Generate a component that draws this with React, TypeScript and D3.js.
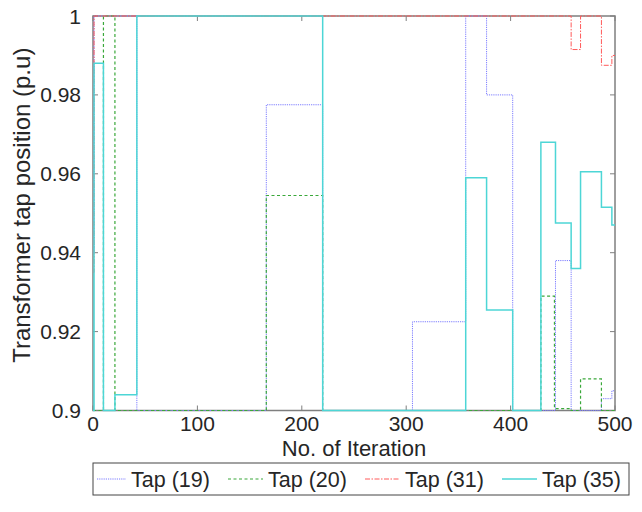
import React from "react";
import * as d3 from "d3";

const seriesNames = ["Tap (19)", "Tap (20)", "Tap (31)", "Tap (35)"];

// change points (iteration where a new value starts) and values
const tap19Iter = [0, 1, 42, 166, 220, 306, 357, 377, 402, 443, 458, 487, 497, 500];
const tap19Val = [0.94, 1, 0.9, 0.9775, 0.9, 0.9225, 1, 0.98, 0.9, 0.938, 0.9, 0.903, 0.905, 0.905];

const tap20Iter = [0, 10, 21, 166, 220, 429, 442, 458, 467, 487, 500];
const tap20Val = [0.9, 1, 0.9, 0.9545, 0.9, 0.929, 0.9005, 0.9, 0.908, 0.9, 0.9];

const tap31Iter = [0, 1, 458, 467, 487, 497, 500];
const tap31Val = [0.935, 1, 0.9915, 1, 0.9875, 0.99, 0.99];

const tap35Iter = [0, 1, 10, 21, 42, 220, 357, 377, 402, 429, 443, 458, 467, 487, 497, 500];
const tap35Val = [0.9, 0.988, 0.9, 0.904, 1, 0.9, 0.959, 0.9255, 0.9, 0.968, 0.9475, 0.936, 0.9605, 0.9515, 0.947, 0.947];

const xTicks = [0, 100, 200, 300, 400, 500];
const yTicks = [0.9, 0.92, 0.94, 0.96, 0.98, 1];

const colors = ["#7b7bff", "#3aa83a", "#ff5a5a", "#4dd6d6"];
const dashes = ["1.2,1", "3,2.5", "5,1.5,1.5,1.5", "none"];
const widths = [1, 1.2, 1, 1.5];

export default function App() {
  const W = 642, H = 512;
  const left = 93, right = 615, top = 16, bottom = 410.5;
  const x = d3.scaleLinear().domain([0, 500]).range([left, right]);
  const y = d3.scaleLinear().domain([0.9, 1]).range([bottom, top]);
  const line = d3
    .line<[number, number]>()
    .x((d) => x(d[0]))
    .y((d) => y(d[1]))
    .curve(d3.curveStepAfter);
  const all = [
    [tap19Iter, tap19Val],
    [tap20Iter, tap20Val],
    [tap31Iter, tap31Val],
    [tap35Iter, tap35Val],
  ].map(([it, v]) => it.map((t, i) => [t, v[i]] as [number, number]));

  const font = "'Liberation Sans', Arial, Helvetica, sans-serif";
  const axisCol = "#7f7f7f";
  const textCol = "#262626";
  const tickLen = 5;
  const legendTextX = [131, 268, 405, 542];
  const legTop = 463, legH = 32;

  return (
    <svg width={W} height={H} style={{ position: "absolute", left: 0, top: 0, background: "#fff" }} fontFamily={font}>
      <rect x={0} y={0} width={W} height={H} fill="#fff" />
      {/* axes box */}
      <rect x={left} y={top} width={right - left} height={bottom - top} fill="none" stroke={axisCol} strokeWidth={1.5} />
      {xTicks.map((t) => (
        <g key={"x" + t}>
          <line x1={x(t)} x2={x(t)} y1={bottom} y2={bottom - tickLen} stroke={axisCol} />
          <line x1={x(t)} x2={x(t)} y1={top} y2={top + tickLen} stroke={axisCol} />
          <text x={x(t)} y={bottom + 20} textAnchor="middle" fontSize={21} fill={textCol}>
            {t}
          </text>
        </g>
      ))}
      {yTicks.map((t) => (
        <g key={"y" + t}>
          <line x1={left} x2={left + tickLen} y1={y(t)} y2={y(t)} stroke={axisCol} />
          <line x1={right} x2={right - tickLen} y1={y(t)} y2={y(t)} stroke={axisCol} />
          <text x={left - 12} y={y(t) + 7.5} textAnchor="end" fontSize={21} fill={textCol}>
            {t === 1 ? "1" : t.toFixed(t === 0.9 ? 1 : 2)}
          </text>
        </g>
      ))}
      <text x={(left + right) / 2} y={456} textAnchor="middle" fontSize={22} fill={textCol}>
        No. of Iteration
      </text>
      <text
        transform={`translate(30, ${(top + bottom) / 2 - 8}) rotate(-90)`}
        textAnchor="middle"
        fontSize={24}
        fill={textCol}
      >
        Transformer tap position (p.u)
      </text>
      {/* series */}
      {all.map((pts, i) => (
        <path
          key={i}
          d={line(pts) || ""}
          fill="none"
          stroke={colors[i]}
          strokeWidth={widths[i]}
          strokeDasharray={dashes[i]}
        />
      ))}
      {/* legend */}
      <rect x={93} y={legTop} width={536} height={legH} fill="#fff" stroke="#444" strokeWidth={1} />
      {seriesNames.map((n, i) => (
        <g key={n}>
          <line
            x1={Math.max(97, legendTextX[i] - 40)}
            x2={legendTextX[i] - 5}
            y1={legTop + legH / 2}
            y2={legTop + legH / 2}
            stroke={colors[i]}
            strokeWidth={widths[i]}
            strokeDasharray={dashes[i]}
          />
          <text x={legendTextX[i]} y={legTop + legH / 2 + 7.5} fontSize={21.5} fill={textCol}>
            {n}
          </text>
        </g>
      ))}
    </svg>
  );
}
